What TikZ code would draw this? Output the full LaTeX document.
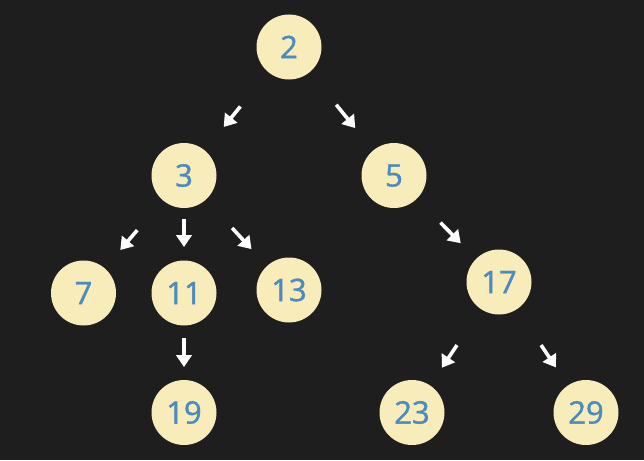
\documentclass[tikz,border=0pt]{standalone}
\usepackage{fontspec}
\setmainfont{Open Sans}
\newfontfamily\numfont{Open Sans}[FakeBold=1.2]
\usetikzlibrary{arrows.meta}
\definecolor{bg}{RGB}{30,30,30}
\definecolor{ball}{RGB}{248,236,187}
\definecolor{num}{RGB}{76,139,189}
\tikzset{
  val/.style={circle, fill=ball, draw=none, minimum size=65pt, inner sep=0pt,
    outer sep=0pt, text=num, font=\numfont\fontsize{31}{31}\selectfont},
  arr/.style={white, line width=3.6pt,
    -{Triangle[length=12pt,width=15.5pt]}},
}
\begin{document}
\begin{tikzpicture}[x=1pt,y=-1pt]
  \fill[bg] (0,0) rectangle (644,460);
  \useasboundingbox (0,0) rectangle (644,460);

  % tree nodes
  \node[val] (n2)  at (289,47)    {2};
  \node[val] (n3)  at (184,175.5) {3};
  \node[val] (n5)  at (394,175.5) {5};
  \node[val] (n7)  at (83.5,293)  {7};
  \node[val] (n11) at (184,293)   {11};
  \node[val] (n13) at (289,290)   {13};
  \node[val] (n17) at (499,282)   {17};
  \node[val] (n19) at (184,412.5) {19};
  \node[val] (n23) at (412,412.5) {23};
  \node[val] (n29) at (586,412.5) {29};

  % short arrows floating between parent and child
  \draw[arr, shorten <=76.8pt, shorten >=62.7pt] (n2.center)  -- (n3.center);
  \draw[arr, shorten <=74.6pt, shorten >=61.2pt] (n2.center)  -- (n5.center);
  \draw[arr, shorten <=71.9pt, shorten >=56.6pt] (n3.center)  -- (n7.center);
  \draw[arr, shorten <=43.5pt, shorten >=46pt]   (n3.center)  -- (n11.center);
  \draw[arr, shorten <=71.2pt, shorten >=55.5pt] (n3.center)  -- (n13.center);
  \draw[arr, shorten <=66.2pt, shorten >=54.5pt] (n5.center)  -- (n17.center);
  \draw[arr, shorten <=45pt,   shorten >=45.5pt] (n11.center) -- (n19.center);
  \draw[arr, shorten <=75.8pt, shorten >=53.8pt] (n17.center) -- (n23.center);
  \draw[arr, shorten <=75.8pt, shorten >=54.2pt] (n17.center) -- (n29.center);
\end{tikzpicture}
\end{document}
